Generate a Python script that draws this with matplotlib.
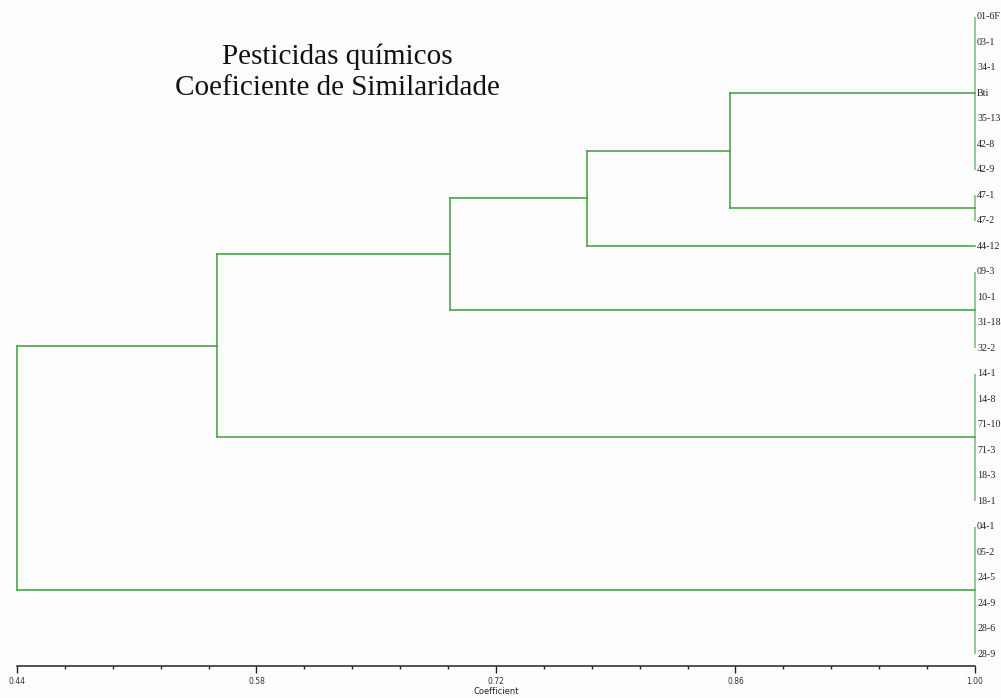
import numpy as np
import matplotlib.pyplot as plt
from matplotlib.ticker import FixedLocator

# leaf labels, top to bottom
labels = ["01-6F", "03-1", "34-1", "Bti", "35-13", "42-8", "42-9",
          "47-1", "47-2", "44-12", "09-3", "10-1", "31-18", "32-2",
          "14-1", "14-8", "71-10", "71-3", "18-3", "18-1",
          "04-1", "05-2", "24-5", "24-9", "28-6", "28-9"]

# sizes of the groups that are identical (coefficient 1.00)
group_sizes = [7, 2, 1, 4, 6, 6]

# merges: (node a, node b, coefficient); new nodes numbered after the groups
merges = [(0, 1, 0.857),
          (6, 2, 0.773),
          (7, 3, 0.693),
          (8, 4, 0.557),
          (9, 5, 0.440)]

major_ticks = [0.44, 0.58, 0.72, 0.86, 1.00]

line_col = "#3c9e3c"
leaf_col = "#86c886"

fig = plt.figure(figsize=(10.01, 6.98), dpi=100)
fig.patch.set_facecolor("#fdfdfd")
ax = fig.add_axes([17 / 1001, 1 - 666 / 698, (975 - 17) / 1001, (666 - 10) / 698])
ax.set_facecolor("#fdfdfd")

# node positions
node_x = []
node_y = []
start = 0
for n in group_sizes:
    first, last = start, start + n - 1
    if n > 1:
        ax.plot([1.0, 1.0], [first, last], color=leaf_col, lw=1.3,
                solid_capstyle="butt", clip_on=False)
    node_x.append(1.0)
    node_y.append((first + last) / 2)
    start += n

for a, b, h in merges:
    ax.plot([h, h], [node_y[a], node_y[b]], color=line_col, lw=1.1, clip_on=False)
    ax.plot([h, node_x[a]], [node_y[a], node_y[a]], color=line_col, lw=1.1, clip_on=False)
    ax.plot([h, node_x[b]], [node_y[b], node_y[b]], color=line_col, lw=1.1, clip_on=False)
    node_x.append(h)
    node_y.append((node_y[a] + node_y[b]) / 2)

for i, lab in enumerate(labels):
    ax.annotate(lab, (1.0, i), xytext=(1.5, 0), textcoords="offset points",
                va="center", ha="left", fontsize=7.2, family="Liberation Serif",
                color="#222222", annotation_clip=False)

ax.set_xlim(0.44, 1.00)
ax.set_ylim(25.47, -0.27)
for s in ["top", "left", "right"]:
    ax.spines[s].set_visible(False)
ax.spines["bottom"].set_linewidth(1.1)
ax.spines["bottom"].set_color("#222222")
ax.set_yticks([])
ax.set_xticks(major_ticks)
ax.set_xticklabels(["%.2f" % t for t in major_ticks])
ax.xaxis.set_minor_locator(FixedLocator(np.linspace(0.44, 1.00, 21)))
ax.tick_params(axis="x", which="major", length=5, width=1, labelsize=5.5,
               pad=3, color="#222222", labelcolor="#333333")
ax.tick_params(axis="x", which="minor", length=2.5, width=1, color="#222222")
ax.set_xlabel("Coefficient", fontsize=6, labelpad=1, color="#222222")

fig.text(337 / 1001, 1 - 72 / 698, "Pesticidas químicos\nCoeficiente de Similaridade",
         ha="center", va="center", fontsize=21, family="Liberation Serif",
         linespacing=1.25, color="#111111")

fig.savefig("out.png", dpi=100, facecolor=fig.get_facecolor())
